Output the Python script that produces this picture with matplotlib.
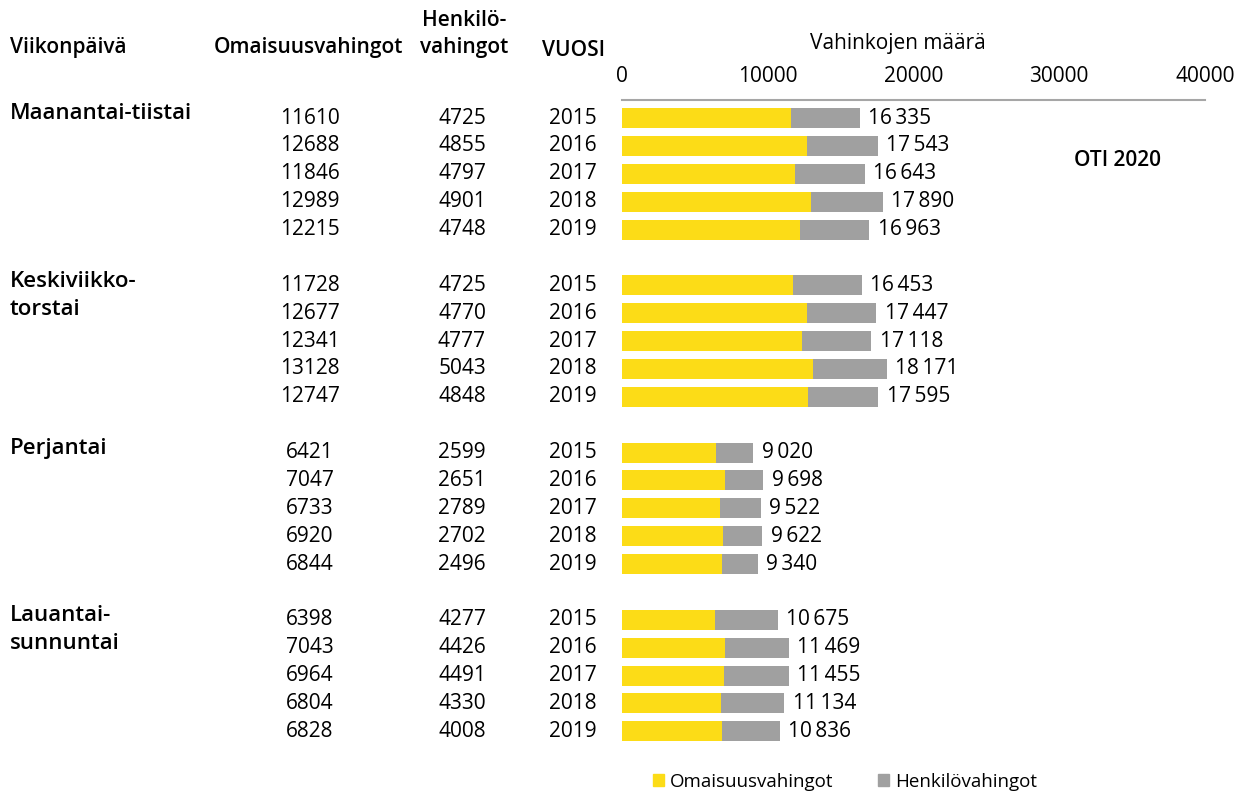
import numpy as np
import matplotlib.pyplot as plt
from matplotlib.transforms import blended_transform_factory
from matplotlib.patches import Patch

plt.rcParams['font.family'] = ['Open Sans', 'DejaVu Sans']

days = ['Maanantai-tiistai', 'Keskiviikko-\ntorstai', 'Perjantai', 'Lauantai-\nsunnuntai']
years = [2015, 2016, 2017, 2018, 2019]
omaisuus = [[11610, 12688, 11846, 12989, 12215],
            [11728, 12677, 12341, 13128, 12747],
            [6421, 7047, 6733, 6920, 6844],
            [6398, 7043, 6964, 6804, 6828]]
henkilo = [[4725, 4855, 4797, 4901, 4748],
           [4725, 4770, 4777, 5043, 4848],
           [2599, 2651, 2789, 2702, 2496],
           [4277, 4426, 4491, 4330, 4008]]
xticks = [0, 10000, 20000, 30000, 40000]

YELLOW = '#FCDC17'
GRAY = '#A0A0A0'
W, H = 1240, 793

fig = plt.figure(figsize=(12.4, 7.93), dpi=100)
ax = fig.add_axes([622 / W, 1 - 748 / H, (1205 - 622) / W, (748 - 100) / H])

def fmt(v):
    s = f'{v:,}'.replace(',', '\u2009')
    return s

trans = blended_transform_factory(fig.transFigure, ax.transData)
fs = 15
fb = 15
wb = 'semibold'

for g, day in enumerate(days):
    for i, yr in enumerate(years):
        pos = g * 6 + i
        o = omaisuus[g][i]
        h = henkilo[g][i]
        ax.barh(pos, o, height=0.72, color=YELLOW)
        ax.barh(pos, h, left=o, height=0.72, color=GRAY)
        ax.annotate(fmt(o + h), (o + h, pos), xytext=(6, 0), textcoords='offset points',
                    va='center', ha='left', fontsize=fs)
        fig.text(310 / W, pos, str(o), transform=trans, ha='center', va='center', fontsize=fs)
        fig.text(462 / W, pos, str(h), transform=trans, ha='center', va='center', fontsize=fs)
        fig.text(573 / W, pos, str(yr), transform=trans, ha='center', va='center', fontsize=fs)
    for j, line in enumerate(day.split('\n')):
        fig.text(10 / W, g * 6 + j - 0.15, line, transform=trans, ha='left', va='center',
                 fontsize=16, fontweight=wb)

ax.set_xlim(0, 40000)
ax.set_ylim(22.6, -0.65)
ax.set_xticks(xticks)
ax.xaxis.tick_top()
ax.tick_params(axis='x', length=0, pad=9, labelsize=fs)
ax.set_yticks([])
for s in ['left', 'right', 'bottom']:
    ax.spines[s].set_visible(False)
ax.spines['top'].set_color('#A6A6A6')
ax.spines['top'].set_linewidth(1.5)

# headers
fig.text(10 / W, 1 - 48 / H, 'Viikonpäivä', ha='left', va='center', fontsize=fb, fontweight=wb)
fig.text(308 / W, 1 - 48 / H, 'Omaisuusvahingot', ha='center', va='center', fontsize=fb, fontweight=wb)
fig.text(464 / W, 1 - 34 / H, 'Henkilö-\nvahingot', ha='center', va='center', fontsize=fb,
         fontweight=wb, linespacing=1.4)
fig.text(573 / W, 1 - 50 / H, 'VUOSI', ha='center', va='center', fontsize=fb, fontweight=wb)
fig.text(898 / W, 1 - 43 / H, 'Vahinkojen määrä', ha='center', va='center', fontsize=fs)
fig.text(1118 / W, 1 - 160 / H, 'OTI 2020', ha='center', va='center', fontsize=fb, fontweight=wb)

handles = [Patch(color=YELLOW, label='Omaisuusvahingot'), Patch(color=GRAY, label='Henkilövahingot')]
fig.legend(handles=handles, loc='center', bbox_to_anchor=(845 / W, 1 - 782 / H), ncol=2,
           frameon=False, fontsize=13.5, handlelength=0.6, handleheight=0.6,
           handletextpad=0.3, columnspacing=2.4, borderpad=0)

fig.savefig('out.png', dpi=100)
